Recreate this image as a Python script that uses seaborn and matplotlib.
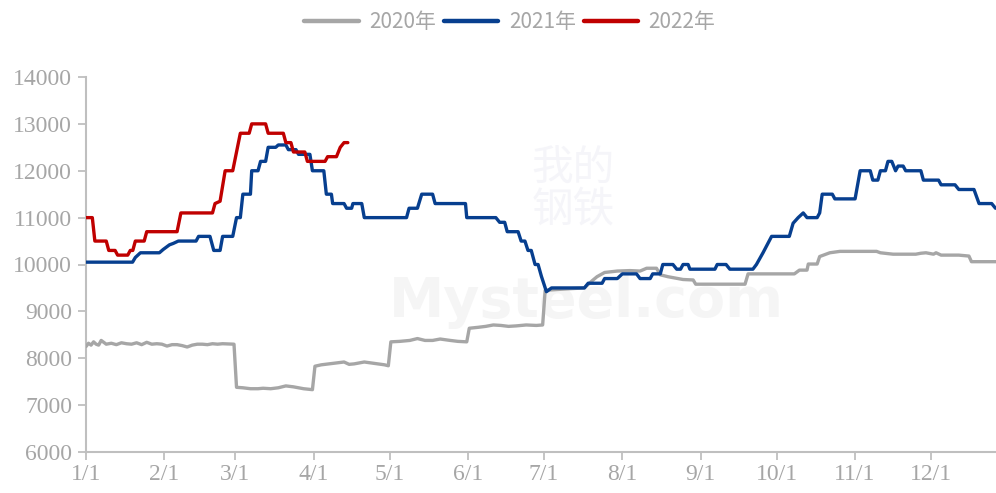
import matplotlib
matplotlib.use("Agg")
import matplotlib.pyplot as plt
from matplotlib.lines import Line2D
import pandas as pd
import seaborn as sns

# -- data: day of year -> price -----------------------------------------------
days_2020 = [0, 1, 2, 3, 4, 5, 6, 7, 8, 10, 12, 14, 16, 18, 20, 22, 24, 26, 28, 30,
             32, 34, 36, 38, 40, 42, 44, 46, 48, 50, 52, 54, 58.5, 59.5, 62, 65, 68,
             70, 73, 76, 79, 82, 86, 89.5, 90.5, 93, 96, 99, 102, 104, 106, 110, 114,
             118, 119.5, 120.5, 124, 128, 131, 134, 137, 140, 144, 147, 150.5, 151.5,
             155, 158, 161, 164, 167, 170, 174, 178, 180.5, 181.5, 190, 197, 200, 202,
             205, 210, 215, 219, 221.6, 225.5, 227, 230, 234, 236, 240, 241, 250,
             260.5, 261.7, 270, 280, 282, 285, 285.5, 289, 290, 294, 298, 305, 312.5,
             314, 319, 324, 328, 330, 332, 335, 336, 338, 341, 345, 349, 350, 360]
price_2020 = [8250, 8320, 8280, 8350, 8300, 8280, 8380, 8340, 8300, 8320, 8290, 8330,
              8310, 8300, 8330, 8290, 8340, 8300, 8310, 8300, 8260, 8290, 8290, 8270,
              8240, 8280, 8300, 8300, 8290, 8310, 8300, 8310, 8300, 7380, 7370, 7350,
              7350, 7360, 7350, 7370, 7410, 7390, 7350, 7330, 7830, 7860, 7880, 7900,
              7920, 7870, 7880, 7920, 7890, 7860, 7840, 8350, 8360, 8380, 8420, 8380,
              8380, 8410, 8380, 8360, 8350, 8640, 8660, 8680, 8710, 8700, 8680, 8690,
              8710, 8700, 8710, 9450, 9480, 9500, 9650, 9740, 9830, 9860, 9870, 9860,
              9920, 9920, 9780, 9740, 9700, 9680, 9670, 9580, 9580, 9580, 9800, 9800,
              9800, 9880, 9880, 10010, 10010, 10170, 10250, 10280, 10280, 10280, 10250,
              10220, 10220, 10220, 10240, 10250, 10220, 10250, 10200, 10200, 10200,
              10180, 10060, 10060]

days_2021 = [0, 18.4, 19.5, 21.5, 29, 30.5, 33, 34.5, 36.5, 43.5, 44.5, 49, 50.5, 53,
             54, 58, 59.5, 61, 62, 65, 65.5, 68, 69, 71, 72, 75, 76, 79, 80, 83, 84,
             88.5, 89.5, 94, 95, 97, 97.5, 102, 103, 105, 105.5, 109, 110, 126.7, 127.7,
             131, 132.7, 137, 138, 150, 150.5, 162, 163.5, 165.5, 166.5, 170.8, 172,
             173.5, 174.7, 176, 177.5, 178.7, 180, 182, 184, 197, 198.5, 204, 205, 210,
             212, 217.6, 219, 223, 224, 227, 228, 232, 233.5, 235, 236, 238, 238.7,
             248.6, 249.5, 253, 254.5, 263.6, 265, 267.6, 271, 278, 279.5, 281.5, 283.5,
             285, 289, 290, 291, 295, 296, 304, 306, 310, 311, 313, 314, 316, 317,
             318.5, 320, 321, 323, 324, 330, 331, 337, 338, 343.5, 345, 351, 353, 358,
             359.5]
price_2021 = [10050, 10050, 10150, 10250, 10250, 10320, 10420, 10450, 10500, 10500,
              10600, 10600, 10300, 10300, 10600, 10600, 11000, 11000, 11500, 11500,
              12000, 12000, 12200, 12200, 12500, 12500, 12550, 12550, 12450, 12450,
              12350, 12350, 12000, 12000, 11500, 11500, 11300, 11300, 11200, 11200,
              11300, 11300, 11000, 11000, 11200, 11200, 11500, 11500, 11300, 11300,
              11000, 11000, 10900, 10900, 10700, 10700, 10500, 10500, 10300, 10300,
              10000, 10000, 9750, 9420, 9500, 9500, 9600, 9600, 9700, 9700, 9800, 9800,
              9700, 9700, 9800, 9800, 10000, 10000, 9900, 9900, 10000, 10000, 9900,
              9900, 10000, 10000, 9900, 9900, 10000, 10250, 10600, 10600, 10880, 11000,
              11100, 11000, 11000, 11100, 11500, 11500, 11400, 11400, 12000, 12000,
              11800, 11800, 12000, 12000, 12200, 12200, 12000, 12100, 12100, 12000,
              12000, 11800, 11800, 11700, 11700, 11600, 11600, 11300, 11300, 11200]

days_2022 = [0, 2.5, 3.5, 8, 9, 11.5, 12.5, 16.5, 17.5, 18.5, 19.5, 23, 24, 36, 37.5,
             50, 51, 53, 55, 58, 61, 64.5, 65.5, 71, 72, 78, 79, 81, 82, 86.5, 87.5,
             94.5, 95.5, 99, 100.5, 102, 103.5]
price_2022 = [11000, 11000, 10500, 10500, 10300, 10300, 10200, 10200, 10300, 10300,
              10500, 10500, 10700, 10700, 11100, 11100, 11300, 11350, 12000, 12000,
              12800, 12800, 13000, 13000, 12800, 12800, 12600, 12600, 12400, 12400,
              12200, 12200, 12300, 12300, 12500, 12600, 12600]

series_names = ["2020年", "2021年", "2022年"]
series_colors = ["#a6a6a6", "#073f8f", "#c00000"]

month_days = [0, 31, 59, 90, 120, 151, 181, 212, 243, 273, 304, 334]
month_labels = ["1/1", "2/1", "3/1", "4/1", "5/1", "6/1", "7/1", "8/1", "9/1",
                "10/1", "11/1", "12/1"]
y_ticks = [6000, 7000, 8000, 9000, 10000, 11000, 12000, 13000, 14000]

df = pd.concat([
    pd.DataFrame({"day": days_2020, "price": price_2020, "year": series_names[0]}),
    pd.DataFrame({"day": days_2021, "price": price_2021, "year": series_names[1]}),
    pd.DataFrame({"day": days_2022, "price": price_2022, "year": series_names[2]}),
])

# -- style --------------------------------------------------------------------
sns.set_style("white")
plt.rcParams["font.family"] = ["Liberation Serif", "DejaVu Serif"]
AXIS_GREY = "#bfbfbf"
TEXT_GREY = "#a6a6a6"

fig = plt.figure(figsize=(9.96, 4.93), dpi=100)
ax = fig.add_axes([86 / 996, 1 - 452 / 493, 1 - 86 / 996, (452 - 77) / 493])

# faint watermark
ax.text(0.55, 0.40, "Mysteel.com", transform=ax.transAxes, fontsize=40,
        fontweight="bold", color="#f5f5f5", ha="center", va="center",
        family=["DejaVu Sans"], zorder=0)
ax.text(0.535, 0.70, "我的\n钢铁", transform=ax.transAxes, fontsize=30,
        color="#f5f5f9", ha="center", va="center", linespacing=1.0,
        family=["Noto Sans CJK SC", "DejaVu Sans"], zorder=0)

sns.lineplot(data=df, x="day", y="price", hue="year", palette=series_colors,
             hue_order=series_names, estimator=None, sort=False, linewidth=2.4,
             legend=False, ax=ax, zorder=3)

ax.set_xlim(0, 359.7)
ax.set_ylim(6000, 14000)
ax.set_xticks(month_days)
ax.set_xticklabels(month_labels)
ax.set_yticks(y_ticks)
ax.set_xlabel("")
ax.set_ylabel("")

for side in ["top", "right"]:
    ax.spines[side].set_visible(False)
for side in ["left", "bottom"]:
    ax.spines[side].set_color(AXIS_GREY)
    ax.spines[side].set_linewidth(1.5)
ax.tick_params(axis="both", which="both", direction="out", length=6, width=1.3,
               color=AXIS_GREY, labelcolor=TEXT_GREY, labelsize=17)
ax.tick_params(axis="x", pad=3)
ax.tick_params(axis="y", pad=4)
ax.tick_params(left=True, bottom=True)

handles = [Line2D([], [], color=c, linewidth=3.2) for c in series_colors]
fig.legend(handles, series_names, loc="upper center", bbox_to_anchor=(0.512, 1.015),
           ncol=3, frameon=False, handlelength=2.6, handletextpad=0.5,
           columnspacing=0.4, prop={"family": ["Noto Sans CJK SC", "DejaVu Sans"],
                                    "size": 15}, labelcolor=TEXT_GREY)

fig.savefig("out.png", dpi=100)
